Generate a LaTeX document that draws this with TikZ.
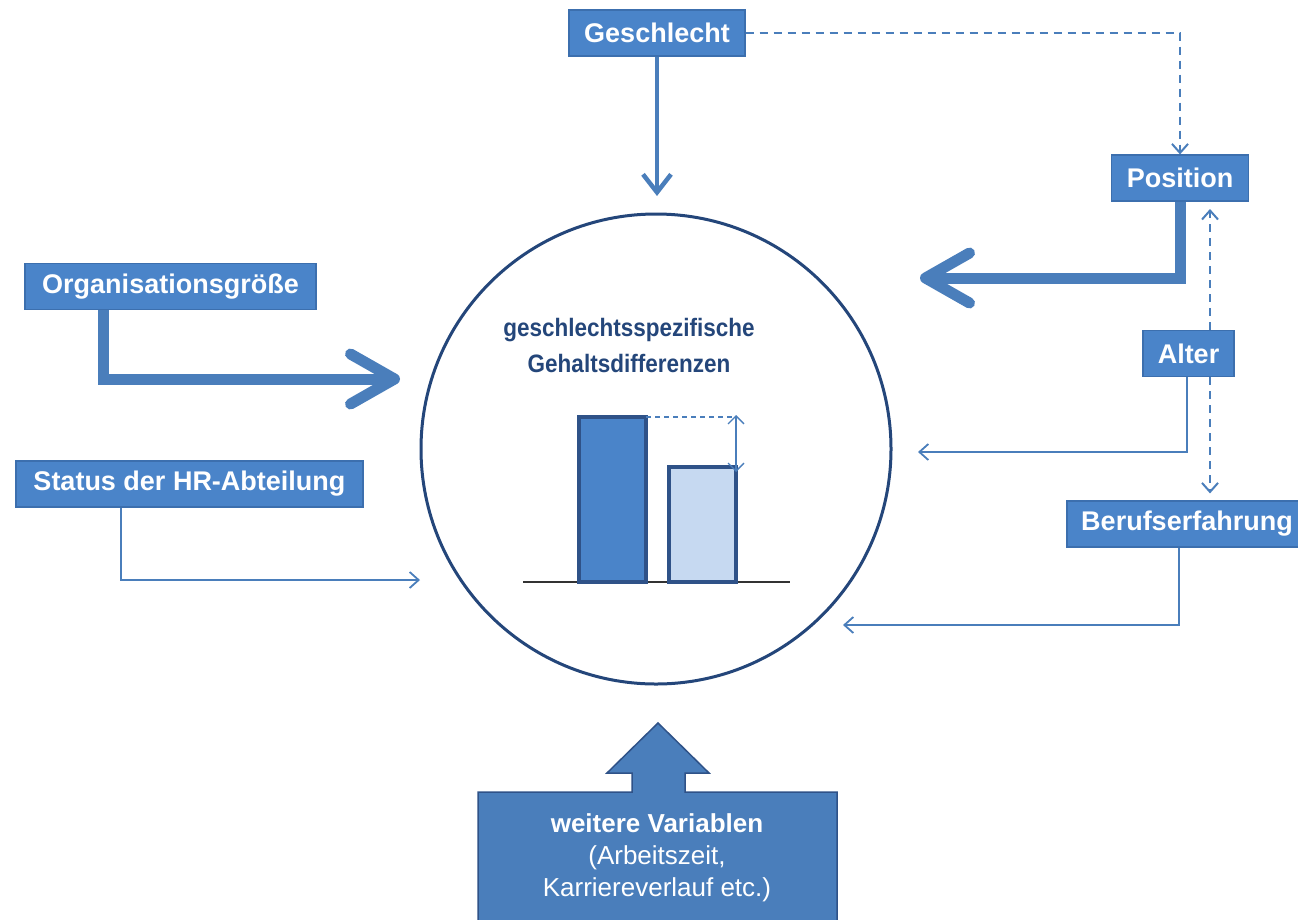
\documentclass[tikz,border=0pt]{standalone}
\usepackage{fontspec}
\setmainfont{Liberation Sans}
\usetikzlibrary{arrows.meta}
\definecolor{boxfill}{HTML}{4A84C9}
\definecolor{boxborder}{HTML}{3C6FAE}
\definecolor{arrowblue}{HTML}{4A7EBB}
\definecolor{navy}{HTML}{24467A}
\definecolor{barlight}{HTML}{C6D9F1}
\definecolor{barborder}{HTML}{2F5288}
\tikzset{
  varbox/.style={draw=boxborder, line width=1.2pt, fill=boxfill, text=white,
    font=\bfseries\fontsize{27}{30}\selectfont, minimum height=46pt, inner sep=0pt, anchor=center},
  bigarrow/.style={draw=arrowblue, line width=11pt, line join=miter,
    -{Straight Barb[length=44pt,width=50pt,round]}},
  midarrow/.style={draw=arrowblue, line width=4.5pt,
    -{Straight Barb[length=18pt,width=28pt]}},
  thinarrow/.style={draw=arrowblue, line width=1.8pt,
    -{Straight Barb[length=9pt,width=16pt]}},
  dasharrow/.style={draw=arrowblue, line width=2pt, dash pattern=on 8pt off 6pt,
    -{Straight Barb[length=9pt,width=16pt]}},
  barbox/.style={draw=barborder, line width=3.5pt, outer sep=0pt, minimum width=67pt,
    inner sep=0pt, anchor=south west},
}
\begin{document}
\begin{tikzpicture}[x=1pt,y=-1pt]
\useasboundingbox[fill=white] (0,0) rectangle (1298,919);

% central circle
\node[circle, draw=navy, line width=3pt, minimum size=470pt, inner sep=0pt] (circ) at (656,449) {};
\node[text=navy, font=\bfseries\fontsize{22.5}{36}\selectfont, align=center] (ctext) at (629,345)
  {\scalebox{1}[1.12]{geschlechtsspezifische}\\\scalebox{1}[1.12]{Gehaltsdifferenzen}};

% bar chart
\draw[black!80, line width=1.5pt] (523,582) -- (790,582);
\node[barbox, fill=boxfill, minimum height=165pt] (bar1) at (579,582) {};
\node[barbox, fill=barlight, minimum height=115pt] (bar2) at (669,582) {};
\coordinate (dashend) at (bar1.north east -| bar2.east);
\draw[arrowblue, line width=1.3pt, dash pattern=on 5pt off 4pt] (bar1.north east) -- (dashend);
\draw[arrowblue, line width=1.3pt, {Straight Barb[length=8pt,width=16pt]}-{Straight Barb[length=8pt,width=16pt]}]
  ([yshift=2pt]dashend) -- ([yshift=-5pt]bar2.north east);

% boxes
\node[varbox, minimum width=176pt] (geschlecht) at (657,33) {Geschlecht};
\node[varbox, minimum width=137pt] (position) at (1180,178) {Position};
\node[varbox, minimum width=91pt] (alter) at (1188.5,353.5) {Alter};
\node[varbox, minimum width=240pt] (beruf) at (1187,524) {Berufserfahrung};
\node[varbox, minimum width=291pt] (org) at (170.5,286.5) {Organisationsgröße};
\node[varbox, minimum width=347pt] (status) at (189.5,484) {Status der HR-Abteilung};

% coordinates for free ends
\coordinate (gtip) at (657,196);
\coordinate (ptip) at (920,278);
\coordinate (otip) at (400,379);
\coordinate (stip) at (420,580);
\coordinate (atip) at (918,452);
\coordinate (btip) at (843,625);
\coordinate (uptip) at (1210,209);

% connectors
\draw[midarrow] (geschlecht.south) -- (gtip);
\draw[dasharrow] (geschlecht.east) -| (position.north);
\draw[bigarrow] (position.south) |- (ptip);
\draw[bigarrow] ([xshift=-67pt]org.south) |- (otip);
\draw[thinarrow] ([xshift=-68.5pt]status.south) |- (stip);
\draw[thinarrow] ([xshift=-1.5pt]alter.south) |- (atip);
\draw[thinarrow] ([xshift=-8pt]beruf.south) |- (btip);
\draw[dasharrow] ([xshift=21.5pt]alter.north) -- (uptip);
\draw[dasharrow, shorten >=7pt] ([xshift=21.5pt]alter.south) -- ([xshift=23pt]beruf.north);

% big block arrow (weitere Variablen)
\draw[fill=arrowblue, draw=barborder, line width=1.5pt, line join=miter]
  (658,723) -- (709,773) -- (685,773) -- (685,792) -- (837,792) -- (837,930)
  -- (478,930) -- (478,792) -- (632,792) -- (632,773) -- (607,773) -- cycle;
\node[text=white, align=center, font=\fontsize{26}{32}\selectfont] (weitere) at (657,858)
  {\textbf{weitere Variablen}\\(Arbeitszeit,\\Karriereverlauf etc.)};
\end{tikzpicture}
\end{document}
